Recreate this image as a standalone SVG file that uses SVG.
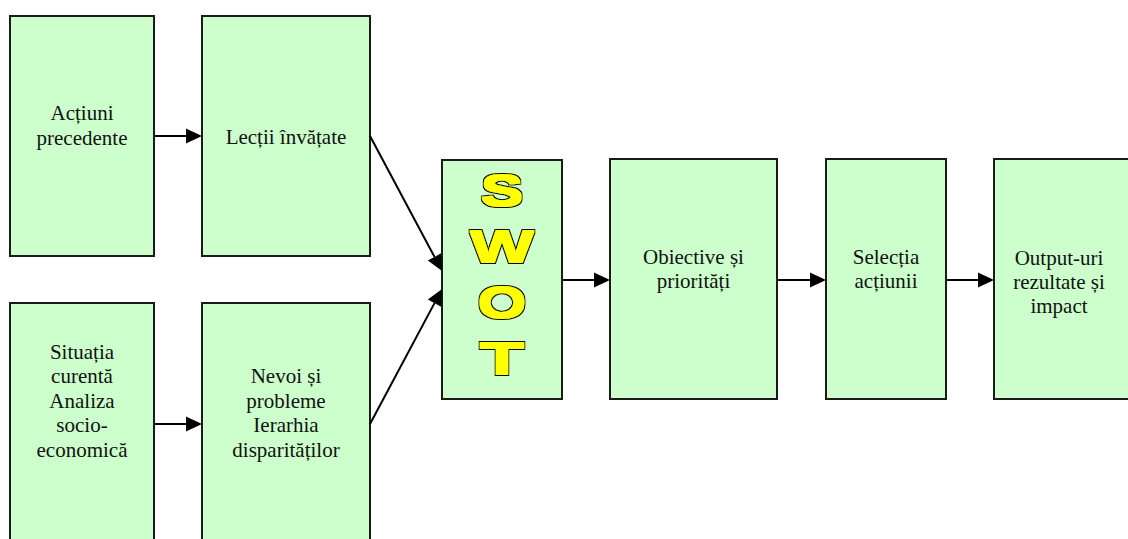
<svg xmlns="http://www.w3.org/2000/svg" width="1128" height="539" viewBox="0 0 1128 539">
<style>
.box{fill:#CCFFCC;stroke:#1a1a1a;stroke-width:2}
.lbl{font-family:"Liberation Serif","Times New Roman",serif;font-size:21px;fill:#111;text-anchor:middle}
.conn{stroke:#000;stroke-width:2;fill:none}
.swot{font-family:"Liberation Sans",Arial,sans-serif;font-weight:bold;font-size:45px;fill:#FFFF00;text-anchor:middle;filter:url(#heavy)}
</style>
<defs>
<marker id="ah" markerUnits="userSpaceOnUse" markerWidth="17" markerHeight="16" refX="0" refY="7.5" orient="auto" overflow="visible">
<path d="M0,0 L16,7.5 L0,15 Z" fill="#000"/>
</marker>
<filter id="heavy" x="-30%" y="-30%" width="160%" height="160%">
<feMorphology in="SourceAlpha" operator="dilate" radius="2.3" result="outer"/>
<feFlood flood-color="#111"/>
<feComposite in2="outer" operator="in" result="black"/>
<feMorphology in="SourceGraphic" operator="dilate" radius="1.1" result="yel"/>
<feMerge><feMergeNode in="black"/><feMergeNode in="yel"/></feMerge>
</filter>
</defs>
<rect width="1128" height="539" fill="#fff"/>
<g id="n-actiuni">
<rect class="box" x="10" y="16" width="144" height="240"/>
<text class="lbl" x="82" y="120">Acțiuni</text>
<text class="lbl" x="82" y="145">precedente</text>
</g>
<g id="n-lectii">
<rect class="box" x="202" y="16" width="168" height="240"/>
<text class="lbl" x="286" y="144">Lecții învățate</text>
</g>
<g id="n-situatia">
<rect class="box" x="10" y="303" width="144" height="250"/>
<text class="lbl" x="82" y="359">Situația</text>
<text class="lbl" x="82" y="383">curentă</text>
<text class="lbl" x="82" y="408">Analiza</text>
<text class="lbl" x="82" y="432">socio-</text>
<text class="lbl" x="82" y="457">economică</text>
</g>
<g id="n-nevoi">
<rect class="box" x="202" y="303" width="168" height="250"/>
<text class="lbl" x="286" y="383">Nevoi și</text>
<text class="lbl" x="286" y="408">probleme</text>
<text class="lbl" x="286" y="432">Ierarhia</text>
<text class="lbl" x="286" y="457">disparităților</text>
</g>
<g id="n-swot">
<rect class="box" x="442" y="160" width="120" height="239"/>
<text class="swot" x="502" y="205.5" textLength="42" lengthAdjust="spacingAndGlyphs">S</text>
<text class="swot" x="502" y="261.5" textLength="63" lengthAdjust="spacingAndGlyphs">W</text>
<text class="swot" x="502" y="317.5" textLength="48" lengthAdjust="spacingAndGlyphs">O</text>
<text class="swot" x="502" y="373.5" textLength="44" lengthAdjust="spacingAndGlyphs">T</text>
</g>
<g id="n-obiective">
<rect class="box" x="610" y="159" width="167" height="240"/>
<text class="lbl" x="693.5" y="264">Obiective și</text>
<text class="lbl" x="693.5" y="288">priorități</text>
</g>
<g id="n-selectia">
<rect class="box" x="826" y="159" width="120" height="240"/>
<text class="lbl" x="886" y="264">Selecția</text>
<text class="lbl" x="886" y="288">acțiunii</text>
</g>
<g id="n-output">
<rect class="box" x="994" y="159" width="140" height="240"/>
<text class="lbl" x="1059" y="265">Output-uri</text>
<text class="lbl" x="1059" y="289">rezultate și</text>
<text class="lbl" x="1059" y="313">impact</text>
</g>
<g id="connectors">
<line class="conn" x1="154" y1="136" x2="186" y2="136" marker-end="url(#ah)"/>
<line class="conn" x1="154" y1="424" x2="186" y2="424" marker-end="url(#ah)"/>
<line class="conn" x1="370" y1="136" x2="434.5" y2="256.9" marker-end="url(#ah)"/>
<line class="conn" x1="370" y1="424" x2="434.5" y2="303.1" marker-end="url(#ah)"/>
<line class="conn" x1="562" y1="280" x2="594" y2="280" marker-end="url(#ah)"/>
<line class="conn" x1="777" y1="280" x2="810" y2="280" marker-end="url(#ah)"/>
<line class="conn" x1="946" y1="280" x2="978" y2="280" marker-end="url(#ah)"/>
</g>
</svg>
